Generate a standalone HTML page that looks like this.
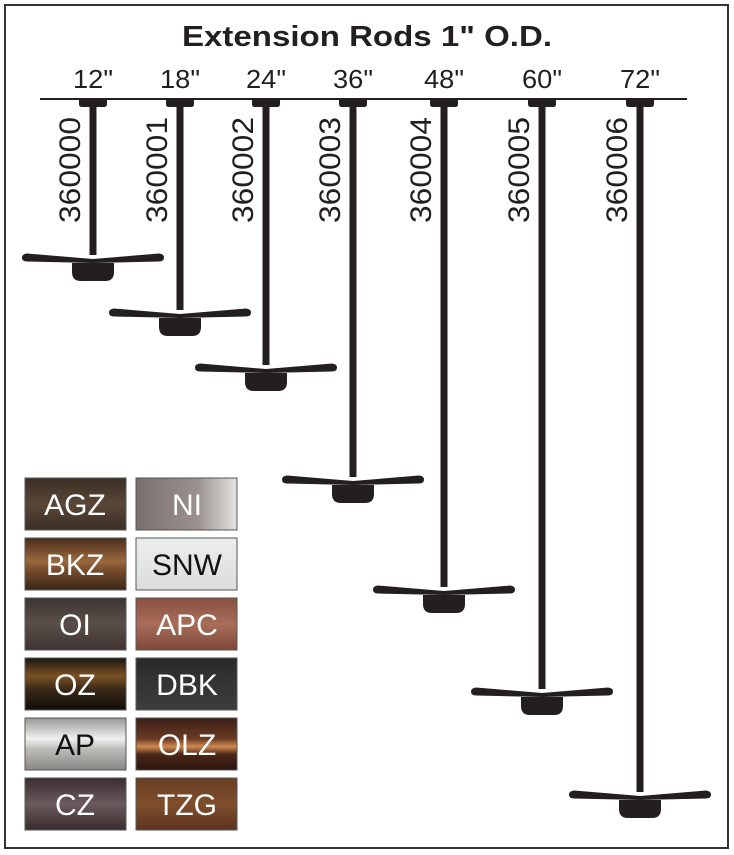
<!DOCTYPE html>
<html><head><meta charset="utf-8"><style>
html,body{margin:0;padding:0;background:#fff;}
svg{display:block;}
text{font-family:"Liberation Sans",Arial,sans-serif;}
</style></head><body>
<svg width="734" height="855" viewBox="0 0 734 855" xmlns="http://www.w3.org/2000/svg">
<defs>
<g id="fan">
<path d="M0,1 L-66,-4.5 Q-71,-4 -71,-0.5 Q-71,3.5 -66,3.5 L0,5 L66,3.5 Q71,3.5 71,-0.5 Q71,-4 66,-4.5 Z" fill="#231f20"/>
<path d="M-21,5 L21,5 L21,14 Q21,23 12,23 L-12,23 Q-21,23 -21,14 Z" fill="#231f20"/>
</g>
<g id="cap"><path d="M-14,99 L14,99 L14,104 Q14,107 11,107 L-11,107 Q-14,107 -14,104 Z" fill="#231f20"/></g>
<linearGradient id="agz" x1="0" y1="0" x2="0" y2="1"><stop offset="0" stop-color="#3a2e24"/><stop offset=".5" stop-color="#5a4636"/><stop offset="1" stop-color="#3b2f25"/></linearGradient>
<linearGradient id="ni" x1="0" y1="0" x2="1" y2="0"><stop offset="0" stop-color="#7a6f6c"/><stop offset=".6" stop-color="#9a918e"/><stop offset="1" stop-color="#e4e2e0"/></linearGradient>
<linearGradient id="bkz" x1="0" y1="0" x2="0" y2="1"><stop offset="0" stop-color="#4a2d1c"/><stop offset=".45" stop-color="#9b6a3e"/><stop offset=".6" stop-color="#7a4f2e"/><stop offset="1" stop-color="#3a2415"/></linearGradient>
<linearGradient id="snw" x1="0" y1="0" x2="0" y2="1"><stop offset="0" stop-color="#eceded"/><stop offset="1" stop-color="#dcdddd"/></linearGradient>
<linearGradient id="oi" x1="0" y1="0" x2="0" y2="1"><stop offset="0" stop-color="#3e3432"/><stop offset=".5" stop-color="#5a4e4a"/><stop offset="1" stop-color="#3f3431"/></linearGradient>
<linearGradient id="apc" x1="0" y1="0" x2="0" y2="1"><stop offset="0" stop-color="#8a5040"/><stop offset=".5" stop-color="#a86e5a"/><stop offset="1" stop-color="#7e4838"/></linearGradient>
<linearGradient id="oz" x1="0" y1="0" x2="0" y2="1"><stop offset="0" stop-color="#1c1610"/><stop offset=".35" stop-color="#7a5224"/><stop offset=".6" stop-color="#3a2a18"/><stop offset="1" stop-color="#100c08"/></linearGradient>
<linearGradient id="dbk" x1="0" y1="0" x2="0" y2="1"><stop offset="0" stop-color="#2a2a2a"/><stop offset="1" stop-color="#3e3e3e"/></linearGradient>
<linearGradient id="ap" x1="0" y1="0" x2="0" y2="1"><stop offset="0" stop-color="#9a9894"/><stop offset=".4" stop-color="#f0f0ee"/><stop offset=".6" stop-color="#bdbbb7"/><stop offset="1" stop-color="#8a8884"/></linearGradient>
<linearGradient id="olz" x1="0" y1="0" x2="0" y2="1"><stop offset="0" stop-color="#3a2018"/><stop offset=".4" stop-color="#6a3a22"/><stop offset=".55" stop-color="#d08a50"/><stop offset=".7" stop-color="#4a2616"/><stop offset="1" stop-color="#2a1410"/></linearGradient>
<linearGradient id="cz" x1="0" y1="0" x2="0" y2="1"><stop offset="0" stop-color="#3a2c30"/><stop offset=".5" stop-color="#6a5a5c"/><stop offset="1" stop-color="#3a2c2e"/></linearGradient>
<linearGradient id="tzg" x1="0" y1="0" x2="0" y2="1"><stop offset="0" stop-color="#6a3e22"/><stop offset=".5" stop-color="#7e4e2c"/><stop offset="1" stop-color="#5e3420"/></linearGradient>
</defs>
<rect x="5" y="5" width="723" height="843" fill="#fff" stroke="#333" stroke-width="2"/>
<text x="367" y="46" font-size="29" font-weight="bold" text-anchor="middle" fill="#231f20" textLength="370" lengthAdjust="spacingAndGlyphs">Extension Rods 1" O.D.</text>
<line x1="40" y1="99" x2="687" y2="99" stroke="#231f20" stroke-width="2"/>
<g font-size="26" text-anchor="middle" fill="#231f20">
<text x="93" y="88" textLength="40" lengthAdjust="spacingAndGlyphs">12"</text><text x="180" y="88" textLength="40" lengthAdjust="spacingAndGlyphs">18"</text><text x="266" y="88" textLength="40" lengthAdjust="spacingAndGlyphs">24"</text><text x="353" y="88" textLength="40" lengthAdjust="spacingAndGlyphs">36"</text><text x="444" y="88" textLength="40" lengthAdjust="spacingAndGlyphs">48"</text><text x="542" y="88" textLength="40" lengthAdjust="spacingAndGlyphs">60"</text><text x="640" y="88" textLength="40" lengthAdjust="spacingAndGlyphs">72"</text>
</g>
<g fill="#231f20">
<rect x="89.5" y="99" width="7" height="156"/><use href="#cap" x="93"/><use href="#fan" x="93" y="258"/>
<rect x="176.5" y="99" width="7" height="211"/><use href="#cap" x="180"/><use href="#fan" x="180" y="313"/>
<rect x="262.5" y="99" width="7" height="266"/><use href="#cap" x="266"/><use href="#fan" x="266" y="368"/>
<rect x="349.5" y="99" width="7" height="378"/><use href="#cap" x="353"/><use href="#fan" x="353" y="480"/>
<rect x="440.5" y="99" width="7" height="488"/><use href="#cap" x="444"/><use href="#fan" x="444" y="590"/>
<rect x="538.5" y="99" width="7" height="590"/><use href="#cap" x="542"/><use href="#fan" x="542" y="692"/>
<rect x="636.5" y="99" width="7" height="693"/><use href="#cap" x="640"/><use href="#fan" x="640" y="795"/>
</g>
<g font-size="30" text-anchor="middle" fill="#231f20">
<text transform="translate(80,170) rotate(-90)" textLength="106" lengthAdjust="spacingAndGlyphs">360000</text>
<text transform="translate(167,170) rotate(-90)" textLength="106" lengthAdjust="spacingAndGlyphs">360001</text>
<text transform="translate(253,170) rotate(-90)" textLength="106" lengthAdjust="spacingAndGlyphs">360002</text>
<text transform="translate(340,170) rotate(-90)" textLength="106" lengthAdjust="spacingAndGlyphs">360003</text>
<text transform="translate(431,170) rotate(-90)" textLength="106" lengthAdjust="spacingAndGlyphs">360004</text>
<text transform="translate(529,170) rotate(-90)" textLength="106" lengthAdjust="spacingAndGlyphs">360005</text>
<text transform="translate(627,170) rotate(-90)" textLength="106" lengthAdjust="spacingAndGlyphs">360006</text>
</g>
<g stroke="#555" stroke-width="1">
<rect x="25" y="478" width="101" height="52" fill="url(#agz)"/><rect x="136" y="478" width="101" height="52" fill="url(#ni)"/>
<rect x="25" y="538" width="101" height="52" fill="url(#bkz)"/><rect x="136" y="538" width="101" height="52" fill="url(#snw)"/>
<rect x="25" y="598" width="101" height="52" fill="url(#oi)"/><rect x="136" y="598" width="101" height="52" fill="url(#apc)"/>
<rect x="25" y="658" width="101" height="52" fill="url(#oz)"/><rect x="136" y="658" width="101" height="52" fill="url(#dbk)"/>
<rect x="25" y="718" width="101" height="52" fill="url(#ap)"/><rect x="136" y="718" width="101" height="52" fill="url(#olz)"/>
<rect x="25" y="778" width="101" height="52" fill="url(#cz)"/><rect x="136" y="778" width="101" height="52" fill="url(#tzg)"/>
</g>
<g font-size="30" text-anchor="middle" fill="#fff">
<text x="75" y="515">AGZ</text><text x="187" y="515">NI</text>
<text x="75" y="575">BKZ</text><text x="187" y="575" fill="#111">SNW</text>
<text x="75" y="635">OI</text><text x="187" y="635">APC</text>
<text x="75" y="695">OZ</text><text x="187" y="695">DBK</text>
<text x="75" y="755" fill="#111">AP</text><text x="187" y="755">OLZ</text>
<text x="75" y="815">CZ</text><text x="187" y="815">TZG</text>
</g>
</svg>
</body></html>
